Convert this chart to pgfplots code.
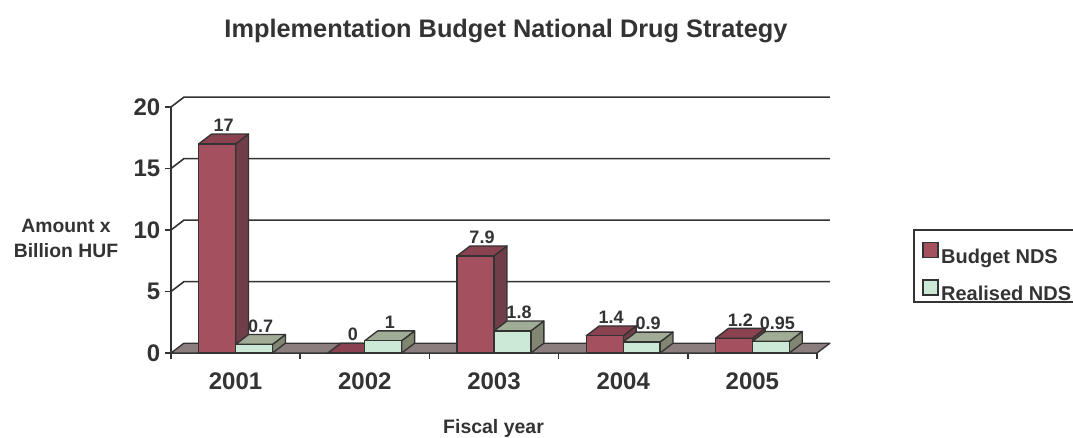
\documentclass[border=0pt]{standalone}
\usepackage{fontspec}
\setmainfont{Liberation Sans}
\usepackage{pgfplots}
\usepackage{pgfplotstable}
\pgfplotsset{compat=1.18}
\definecolor{bfront}{RGB}{165,80,94}
\definecolor{btop}{RGB}{139,66,80}
\definecolor{bside}{RGB}{112,62,72}
\definecolor{rfront}{RGB}{204,232,214}
\definecolor{rtop}{RGB}{160,172,150}
\definecolor{rside}{RGB}{128,134,114}
\definecolor{floorc}{RGB}{140,126,126}
\definecolor{edge}{RGB}{51,51,51}
\definecolor{textc}{RGB}{51,51,51}

\pgfplotstableread{
x b r
0 17 0.7
1 0 1
2 7.9 1.8
3 1.4 0.9
4 1.2 0.95
}\datatab

% top and side faces of a 3D bar: #1 left x, #2 value, #3 top colour, #4 side colour
\newcommand\tdfaces[4]{%
  \pgfmathsetmacro\xa{#1}%
  \pgfmathsetmacro\xb{#1+0.2857}%
  \pgfmathsetmacro\xc{#1+0.3857}%
  \pgfmathsetmacro\xd{#1+0.1}%
  \pgfmathsetmacro\yt{#2}%
  \pgfmathsetmacro\ytt{#2+0.8}%
  \addplot[forget plot, fill=#4, draw=edge, line width=1pt, line join=round]
    coordinates {(\xb,0) (\xc,0.8) (\xc,\ytt) (\xb,\yt)} -- cycle;
  \addplot[forget plot, fill=#3, draw=edge, line width=1pt, line join=round]
    coordinates {(\xa,\yt) (\xb,\yt) (\xc,\ytt) (\xd,\ytt)} -- cycle;
}

\begin{document}
\begin{tikzpicture}[font=\bfseries, text=textc]
\useasboundingbox (-128.25pt,-63pt) rectangle (676.5pt,264.75pt);
\begin{axis}[
  at={(0pt,0pt)}, anchor=south west,
  scale only axis, width=484.5pt, height=184.5pt,
  xmin=-0.5, xmax=4.5, ymin=0, ymax=20,
  clip=false,
  axis lines*=left,
  axis line style={draw=edge, line width=1.2pt, -},
  tick align=outside,
  major tick length=4.5pt,
  xtick={0,1,2,3,4},
  xticklabels={2001,2002,2003,2004,2005},
  xtick style={draw=none},
  xticklabel style={yshift=-6.75pt},
  ytick={0,5,10,15,20},
  ytick style={draw=edge, line width=1.2pt},
  /pgf/number format/assume math mode=true,
  tick label style={font=\fontsize{18pt}{21pt}\selectfont\bfseries, text=textc},
  legend style={at={(1.1562,0.4634)}, anchor=north west, draw=none, fill=none,
    row sep=8.5pt,
    font=\fontsize{15pt}{18pt}\selectfont\bfseries, text=textc, legend cell align=left},
  every node near coord/.append style={font=\fontsize{13.5pt}{16pt}\selectfont\bfseries,
    text=textc, inner sep=0pt, anchor=south, yshift=8.6pt},
]
% back wall grid lines
\draw[edge, line width=1.2pt] (axis cs:-0.5,5) -- (axis cs:-0.4,5.8) -- (axis cs:4.6,5.8);
\draw[edge, line width=1.2pt] (axis cs:-0.5,10) -- (axis cs:-0.4,10.8) -- (axis cs:4.6,10.8);
\draw[edge, line width=1.2pt] (axis cs:-0.5,15) -- (axis cs:-0.4,15.8) -- (axis cs:4.6,15.8);
\draw[edge, line width=1.2pt] (axis cs:-0.5,20) -- (axis cs:-0.4,20.8) -- (axis cs:4.6,20.8);
% category boundary ticks
\draw[edge, line width=1.2pt] (axis cs:-0.5,0) -- (axis cs:-0.5,-0.49);
\draw[edge, line width=1.2pt] (axis cs:0.5,0) -- (axis cs:0.5,-0.49);
\draw[edge, line width=1.2pt] (axis cs:1.5,0) -- (axis cs:1.5,-0.49);
\draw[edge, line width=1.2pt] (axis cs:2.5,0) -- (axis cs:2.5,-0.49);
\draw[edge, line width=1.2pt] (axis cs:3.5,0) -- (axis cs:3.5,-0.49);
\draw[edge, line width=1.2pt] (axis cs:4.5,0) -- (axis cs:4.5,-0.49);
% floor
\addplot[forget plot, fill=floorc, draw=edge, line width=1pt, line join=round]
  coordinates {(-0.5,0) (4.5,0) (4.6,0.8) (-0.4,0.8)} -- cycle;
% budget bars
\tdfaces{-0.2857}{17}{btop}{bside}
\tdfaces{0.7143}{0}{btop}{bside}
\tdfaces{1.7143}{7.9}{btop}{bside}
\tdfaces{2.7143}{1.4}{btop}{bside}
\tdfaces{3.7143}{1.2}{btop}{bside}
\addplot[ybar, bar width=0.2857, bar shift=-0.14285, fill=bfront, draw=edge, line width=1pt,
  nodes near coords, every node near coord/.append style={xshift=-9pt},
  legend image code/.code={\draw[fill=bfront, draw=edge, line width=1pt] (0pt,-0.5pt) rectangle (11.25pt,10.75pt);}]
  table[x=x, y=b] {\datatab};
\addlegendentry{Budget NDS}
% realised bars
\tdfaces{0}{0.7}{rtop}{rside}
\tdfaces{1}{1}{rtop}{rside}
\tdfaces{2}{1.8}{rtop}{rside}
\tdfaces{3}{0.9}{rtop}{rside}
\tdfaces{4}{0.95}{rtop}{rside}
\addplot[ybar, bar width=0.2857, bar shift=0.14285, fill=rfront, draw=edge, line width=1pt,
  nodes near coords, every node near coord/.append style={xshift=18.75pt},
  legend image code/.code={\draw[fill=rfront, draw=edge, line width=1pt] (0pt,-0.5pt) rectangle (11.25pt,10.75pt);}]
  table[x=x, y=r] {\datatab};
\addlegendentry{Realised NDS}
\end{axis}
% legend frame
\draw[edge, line width=1.2pt] (557.25pt,92.25pt) rectangle (681.75pt,38.25pt);
\node[anchor=base, font=\fontsize{19pt}{22pt}\selectfont\bfseries] at (251.25pt,237pt)
  {Implementation Budget National Drug Strategy};
\node[anchor=base, font=\fontsize{14.5pt}{17pt}\selectfont\bfseries] at (-78.75pt,90.75pt) {Amount x};
\node[anchor=base, font=\fontsize{14.5pt}{17pt}\selectfont\bfseries] at (-78.75pt,72pt) {Billion HUF};
\node[anchor=base, font=\fontsize{14.6pt}{17pt}\selectfont\bfseries] at (241.9pt,-60pt) {Fiscal year};
\end{tikzpicture}
\end{document}
